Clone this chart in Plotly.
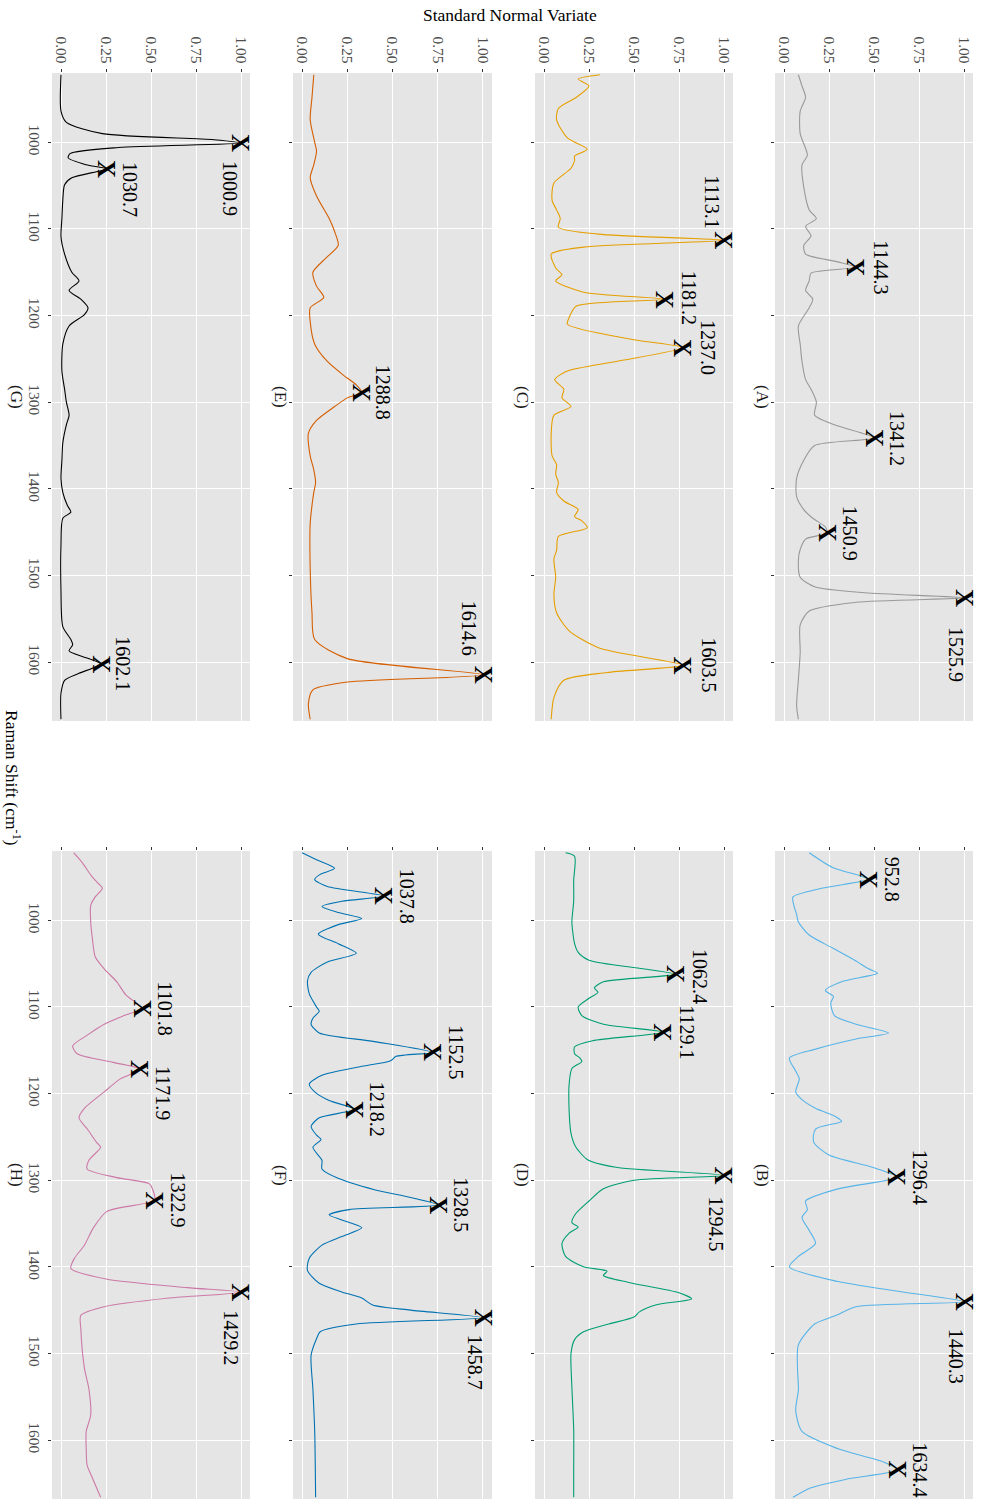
import numpy as np
import plotly.graph_objects as go

# ---------------- data (Raman shift in cm-1, SNV value) ----------------
A_shift = [922, 935, 948, 964, 990, 1015, 1026, 1052, 1078, 1088, 1097, 1108, 1119, 1129, 1138, 1144.3, 1151, 1160,
           1171, 1181, 1191, 1212, 1233, 1253, 1274, 1285, 1300, 1315, 1326, 1341.2, 1350, 1367, 1388, 1409, 1424,
           1434, 1444, 1450.9, 1458, 1470, 1482, 1502, 1513, 1520, 1525.9, 1531, 1541, 1557, 1589, 1620, 1650, 1666]
A_snv = [0.08, 0.10, 0.12, 0.09, 0.09, 0.13, 0.10, 0.11, 0.14, 0.18, 0.12, 0.15, 0.11, 0.12, 0.30, 0.40, 0.15, 0.14,
         0.12, 0.16, 0.14, 0.08, 0.09, 0.10, 0.12, 0.15, 0.18, 0.17, 0.28, 0.50, 0.17, 0.11, 0.07, 0.07, 0.11,
         0.16, 0.23, 0.24, 0.12, 0.09, 0.08, 0.09, 0.17, 0.45, 1.00, 0.40, 0.14, 0.09, 0.09, 0.08, 0.07, 0.08]
A_peaks = [1144.3, 1341.2, 1450.9, 1525.9]
A_labels = ["1144.3", "1341.2", "1450.9", "1525.9"]

B_shift = [922, 939, 949, 952.8, 963, 973, 983, 993, 1002, 1017, 1032, 1047, 1056, 1061, 1071, 1081, 1088, 1095,
           1110, 1120, 1130, 1137, 1149, 1159, 1174, 1183, 1198, 1207, 1217, 1227, 1232, 1241, 1256, 1271, 1285,
           1296.4, 1310, 1324, 1334, 1343, 1358, 1373, 1388, 1400, 1417, 1432, 1440.3, 1446, 1456, 1466, 1490,
           1517, 1542, 1566, 1590, 1610, 1625, 1634.4, 1645, 1655, 1666]
B_snv = [0.14, 0.27, 0.43, 0.47, 0.21, 0.05, 0.055, 0.07, 0.08, 0.14, 0.27, 0.40, 0.47, 0.52, 0.32, 0.23, 0.275, 0.26,
         0.28, 0.40, 0.58, 0.40, 0.17, 0.03, 0.065, 0.085, 0.065, 0.10, 0.175, 0.29, 0.32, 0.175, 0.165, 0.25, 0.49,
         0.63, 0.30, 0.12, 0.13, 0.10, 0.14, 0.175, 0.08, 0.03, 0.30, 0.76, 1.00, 0.40, 0.29, 0.17, 0.08,
         0.075, 0.08, 0.065, 0.10, 0.30, 0.55, 0.63, 0.35, 0.15, 0.05]
B_peaks = [952.8, 1296.4, 1440.3, 1634.4]
B_labels = ["952.8", "1296.4", "1440.3", "1634.4"]

C_shift = [922, 927, 935, 948, 961, 974, 995, 1008, 1016, 1021, 1030, 1047, 1067, 1078, 1088, 1098, 1106, 1113.1,
           1121, 1129, 1145, 1153, 1160, 1173, 1181.2, 1189, 1202, 1210, 1228, 1237.0, 1253, 1264, 1274, 1285, 1295,
           1305, 1315, 1336, 1362, 1372, 1383, 1393, 1404, 1414, 1424, 1432, 1437, 1445, 1455, 1471, 1481, 1502,
           1522, 1543, 1564, 1584, 1603.5, 1612, 1621, 1641, 1666]
C_snv = [0.31, 0.19, 0.25, 0.18, 0.08, 0.07, 0.13, 0.24, 0.17, 0.17, 0.15, 0.055, 0.045, 0.07, 0.09, 0.08, 0.30, 1.00,
         0.22, 0.04, 0.065, 0.10, 0.065, 0.22, 0.67, 0.18, 0.14, 0.13, 0.50, 0.77, 0.40, 0.13, 0.06, 0.11, 0.10,
         0.15, 0.055, 0.04, 0.045, 0.07, 0.065, 0.08, 0.07, 0.11, 0.19, 0.17, 0.21, 0.24, 0.08, 0.07, 0.055, 0.065,
         0.055, 0.07, 0.14, 0.31, 0.77, 0.35, 0.11, 0.055, 0.04]
C_peaks = [1113.1, 1181.2, 1237.0, 1603.5]
C_labels = ["1113.1", "1181.2", "1237.0", "1603.5"]

D_shift = [922, 926, 954, 978, 1002, 1027, 1037, 1046, 1056, 1062.4, 1071, 1078, 1083, 1090, 1100, 1110, 1120,
           1129.1, 1139, 1146, 1154, 1159, 1163, 1171, 1188, 1222, 1246, 1261, 1276, 1285, 1294.5, 1300, 1310, 1324,
           1339, 1349, 1354, 1361, 1373, 1388, 1400, 1405, 1410, 1418, 1430, 1437, 1444, 1452, 1458, 1466, 1475,
           1484, 1500, 1539, 1588, 1637, 1666]
D_snv = [0.12, 0.17, 0.165, 0.165, 0.155, 0.17, 0.19, 0.25, 0.55, 0.73, 0.33, 0.28, 0.30, 0.25, 0.19, 0.21, 0.33,
         0.66, 0.27, 0.17, 0.17, 0.20, 0.21, 0.155, 0.14, 0.14, 0.15, 0.175, 0.24, 0.40, 1.00, 0.50, 0.33, 0.25,
         0.175, 0.155, 0.19, 0.14, 0.10, 0.12, 0.22, 0.35, 0.33, 0.47, 0.75, 0.82, 0.62, 0.53, 0.50, 0.36, 0.22,
         0.17, 0.15, 0.155, 0.165, 0.165, 0.165]
D_peaks = [1062.4, 1129.1, 1294.5]
D_labels = ["1062.4", "1129.1", "1294.5"]

E_shift = [922, 948, 974, 1000, 1010, 1026, 1041, 1062, 1088, 1103, 1119, 1134, 1150, 1166, 1179, 1191, 1207, 1233,
           1253, 1269, 1280, 1288.8, 1295, 1305, 1321, 1336, 1362, 1378, 1393, 1404, 1419, 1440, 1492, 1543, 1574,
           1596, 1614.6, 1623, 1632, 1648, 1666]
E_snv = [0.065, 0.055, 0.045, 0.07, 0.08, 0.065, 0.045, 0.08, 0.15, 0.18, 0.20, 0.13, 0.06, 0.08, 0.12, 0.045, 0.045,
         0.07, 0.14, 0.23, 0.30, 0.33, 0.25, 0.18, 0.08, 0.035, 0.045, 0.065, 0.075, 0.065, 0.055, 0.045, 0.045,
         0.055, 0.07, 0.25, 1.00, 0.25, 0.06, 0.035, 0.045]
E_peaks = [1288.8, 1614.6]
E_labels = ["1288.8", "1614.6"]

F_shift = [922, 930, 940, 947, 953, 961, 972, 978, 984, 991, 998, 1005, 1016, 1027, 1038, 1048, 1060, 1070, 1085,
           1100, 1105, 1113, 1120, 1130, 1140, 1152.5, 1157, 1162, 1169, 1179, 1189, 1198, 1208, 1218.2, 1228, 1238,
           1248, 1253, 1262, 1277, 1287, 1297, 1311, 1320, 1328.5, 1334, 1340, 1346, 1355, 1365, 1375, 1390, 1404,
           1419, 1429, 1436, 1444, 1450, 1458.7, 1466, 1475, 1483, 1502, 1541, 1590, 1666]
F_snv = [0.0, 0.08, 0.18, 0.10, 0.07, 0.14, 0.455, 0.22, 0.11, 0.20, 0.33, 0.20, 0.09, 0.20, 0.30, 0.14, 0.05, 0.03,
         0.04, 0.08, 0.095, 0.06, 0.05, 0.095, 0.40, 0.72, 0.52, 0.49, 0.32, 0.11, 0.04, 0.07, 0.15, 0.29, 0.095,
         0.05, 0.08, 0.105, 0.06, 0.11, 0.11, 0.19, 0.40, 0.60, 0.75, 0.26, 0.15, 0.22, 0.33, 0.22, 0.11, 0.04,
         0.03, 0.095, 0.22, 0.33, 0.39, 0.60, 1.00, 0.30, 0.10, 0.08, 0.05, 0.06, 0.07, 0.075]
F_peaks = [972, 1152.5, 1218.2, 1328.5, 1458.7]
F_labels = ["1037.8", "1152.5", "1218.2", "1328.5", "1458.7"]

G_shift = [922, 964, 977, 990, 997, 1000.9, 1006, 1013, 1018, 1026, 1030.7, 1041, 1049, 1067, 1088, 1109, 1129,
           1150, 1160, 1171, 1181, 1191, 1199, 1212, 1233, 1264, 1285, 1300, 1315, 1326, 1347, 1367, 1388, 1404,
           1419, 1427, 1434, 1465, 1517, 1559, 1574, 1580, 1587, 1595, 1602.1, 1613, 1621, 1636, 1666]
G_snv = [0.0, 0.0, 0.03, 0.23, 0.85, 1.00, 0.32, 0.05, 0.04, 0.14, 0.25, 0.06, 0.02, 0.01, 0.005, 0.0, 0.02,
         0.06, 0.10, 0.045, 0.11, 0.15, 0.13, 0.045, 0.01, 0.005, 0.02, 0.03, 0.045, 0.03, 0.01, 0.005, 0.0, 0.01,
         0.035, 0.055, 0.01, 0.0, 0.0, 0.01, 0.055, 0.065, 0.045, 0.14, 0.22, 0.10, 0.02, 0.0, 0.0]
G_peaks = [1000.9, 1030.7, 1602.1]
G_labels = ["1000.9", "1030.7", "1602.1"]

H_shift = [922, 934, 949, 958, 963, 973, 983, 1002, 1022, 1042, 1056, 1071, 1086, 1101.8, 1110, 1120, 1132, 1145,
           1154, 1164, 1171.9, 1183, 1198, 1217, 1228, 1242, 1257, 1262, 1277, 1287, 1297, 1304, 1311, 1322.9, 1336,
           1355, 1375, 1390, 1402, 1414, 1424, 1429.2, 1436, 1446, 1456, 1471, 1517, 1541, 1571, 1590, 1610, 1629,
           1644, 1666]
H_snv = [0.07, 0.12, 0.17, 0.21, 0.23, 0.19, 0.165, 0.165, 0.175, 0.19, 0.24, 0.31, 0.36, 0.45, 0.35, 0.24, 0.15,
         0.065, 0.09, 0.29, 0.44, 0.33, 0.24, 0.13, 0.10, 0.15, 0.20, 0.22, 0.155, 0.145, 0.31, 0.49, 0.51, 0.52,
         0.255, 0.18, 0.13, 0.075, 0.055, 0.25, 0.70, 1.00, 0.60, 0.24, 0.11, 0.11, 0.13, 0.155, 0.165, 0.14, 0.14,
         0.145, 0.175, 0.22]
H_peaks = [1101.8, 1171.9, 1322.9, 1429.2]
H_labels = ["1101.8", "1171.9", "1322.9", "1429.2"]

snv_ticks = [0, 0.25, 0.5, 0.75, 1.0]
snv_ticktext = ["0.00", "0.25", "0.50", "0.75", "1.00"]
shift_ticks = [1000, 1100, 1200, 1300, 1400, 1500, 1600]
shift_ticktext = ["1000", "1100", "1200", "1300", "1400", "1500", "1600"]

# ---------------- layout / styling ----------------
W, H = 987, 1499
ML, MR, MT, MB = 52, 14, 73, 0
PW, PH = W - ML - MR, H - MT - MB
col_px = [(52, 250), (293, 492), (535, 733), (775, 973)]
half_px = {"top": (73, 721), "bottom": (851, 1499)}

FONT = "Liberation Serif"

panels = [
    # name, shift, snv, peaks, labels, color, column, half, label offsets (dx, dy in px)
    ("A", A_shift, A_snv, A_peaks, A_labels, "#999999", 3, "top", [(25, 0), (23, 0), (23, 0), (-8, 56)]),
    ("C", C_shift, C_snv, C_peaks, C_labels, "#E69F00", 2, "top", [(-12, -38), (24, -2), (26, 0), (26, 0)]),
    ("E", E_shift, E_snv, E_peaks, E_labels, "#D55E00", 1, "top", [(22, 0), (-14, -46)]),
    ("G", G_shift, G_snv, G_peaks, G_labels, "#000000", 0, "top", [(-11, 45), (24, 20), (22, 0)]),
    ("B", B_shift, B_snv, B_peaks, B_labels, "#56B4E9", 3, "bottom", [(23, 0), (23, 0), (-8, 54), (23, 0)]),
    ("D", D_shift, D_snv, D_peaks, D_labels, "#009E73", 2, "bottom", [(24, 2), (24, 0), (-8, 48)]),
    ("F", F_shift, F_snv, F_peaks, F_labels, "#0072B2", 1, "bottom", [(23, 0), (23, 0), (22, 0), (23, 0), (-8, 45)]),
    ("H", H_shift, H_snv, H_peaks, H_labels, "#CC79A7", 0, "bottom", [(23, 0), (23, 24), (23, 0), (-10, 45)]),
]

fig = go.Figure()
annotations = []
layout_axes = {}

for i, (name, sh, sv, pk, lb, color, col, half, offs) in enumerate(panels, start=1):
    xs = "" if i == 1 else str(i)
    x0, x1 = col_px[col]
    y0, y1 = half_px[half]
    xdom = [(x0 - ML) / PW, (x1 - ML) / PW]
    ydom = [(H - MB - y1) / PH, (H - MB - y0) / PH]
    fig.add_trace(go.Scatter(
        x=sv, y=sh, mode="lines", xaxis="x" + xs, yaxis="y" + xs,
        line=dict(color=color, width=1.1, shape="spline", smoothing=0.7),
        hoverinfo="skip", showlegend=False))
    layout_axes["xaxis" + xs] = dict(
        domain=xdom, anchor="y" + xs, range=[-0.05, 1.05], side="top",
        tickvals=snv_ticks, ticktext=snv_ticktext, tickangle=90,
        showticklabels=(half == "top"), ticks="outside", ticklen=3, tickcolor="#333333",
        tickfont=dict(family=FONT, size=15.5, color="#4D4D4D"),
        showgrid=True, gridcolor="#FFFFFF", gridwidth=1, zeroline=False, showline=False)
    layout_axes["yaxis" + xs] = dict(
        domain=ydom, anchor="x" + xs, range=[1668, 920],
        tickvals=shift_ticks, ticktext=shift_ticktext, tickangle=90,
        showticklabels=(col == 0), ticks="outside", ticklen=3, tickcolor="#333333",
        tickfont=dict(family=FONT, size=15.5, color="#4D4D4D"),
        showgrid=True, gridcolor="#FFFFFF", gridwidth=1, zeroline=False, showline=False)
    # peak markers and labels
    for p, t, (dx, dy) in zip(pk, lb, offs):
        v = float(np.interp(p, sh, sv))
        annotations.append(dict(
            x=v, y=p, xref="x" + xs, yref="y" + xs, text="<b>X</b>", showarrow=False,
            textangle=90, font=dict(family=FONT, size=25, color="#000000"),
            xanchor="center", yanchor="middle"))
        annotations.append(dict(
            x=v, y=p, xref="x" + xs, yref="y" + xs, text=t, showarrow=False,
            textangle=90, font=dict(family=FONT, size=20, color="#000000"),
            xanchor="center", yanchor="middle", xshift=dx, yshift=-dy))
    # strip label
    strip_shift = -35 if col == 0 else -12
    annotations.append(dict(
        x=0, y=0.5, xref="x" + xs + " domain", yref="y" + xs + " domain", text="(" + name + ")",
        showarrow=False, textangle=90, font=dict(family=FONT, size=17, color="#1A1A1A"),
        xanchor="center", yanchor="middle", xshift=strip_shift))

# axis titles
annotations.append(dict(
    x=(510 - ML) / PW, y=(H - MB - 15) / PH, xref="paper", yref="paper", text="Standard Normal Variate",
    showarrow=False, font=dict(family=FONT, size=17.5, color="#000000"), xanchor="center", yanchor="middle"))
annotations.append(dict(
    x=(13 - ML) / PW, y=(H - MB - 778) / PH, xref="paper", yref="paper",
    text="Raman Shift (cm<sup>-1</sup>)", showarrow=False, textangle=90,
    font=dict(family=FONT, size=17.5, color="#000000"), xanchor="center", yanchor="middle"))

fig.update_layout(
    width=W, height=H, margin=dict(l=ML, r=MR, t=MT, b=MB, pad=0),
    paper_bgcolor="#FFFFFF", plot_bgcolor="#E5E5E5",
    annotations=annotations, showlegend=False, **layout_axes)

fig.write_html("out.html", config={"displayModeBar": False},
               post_script="document.body.style.margin='0px';")
